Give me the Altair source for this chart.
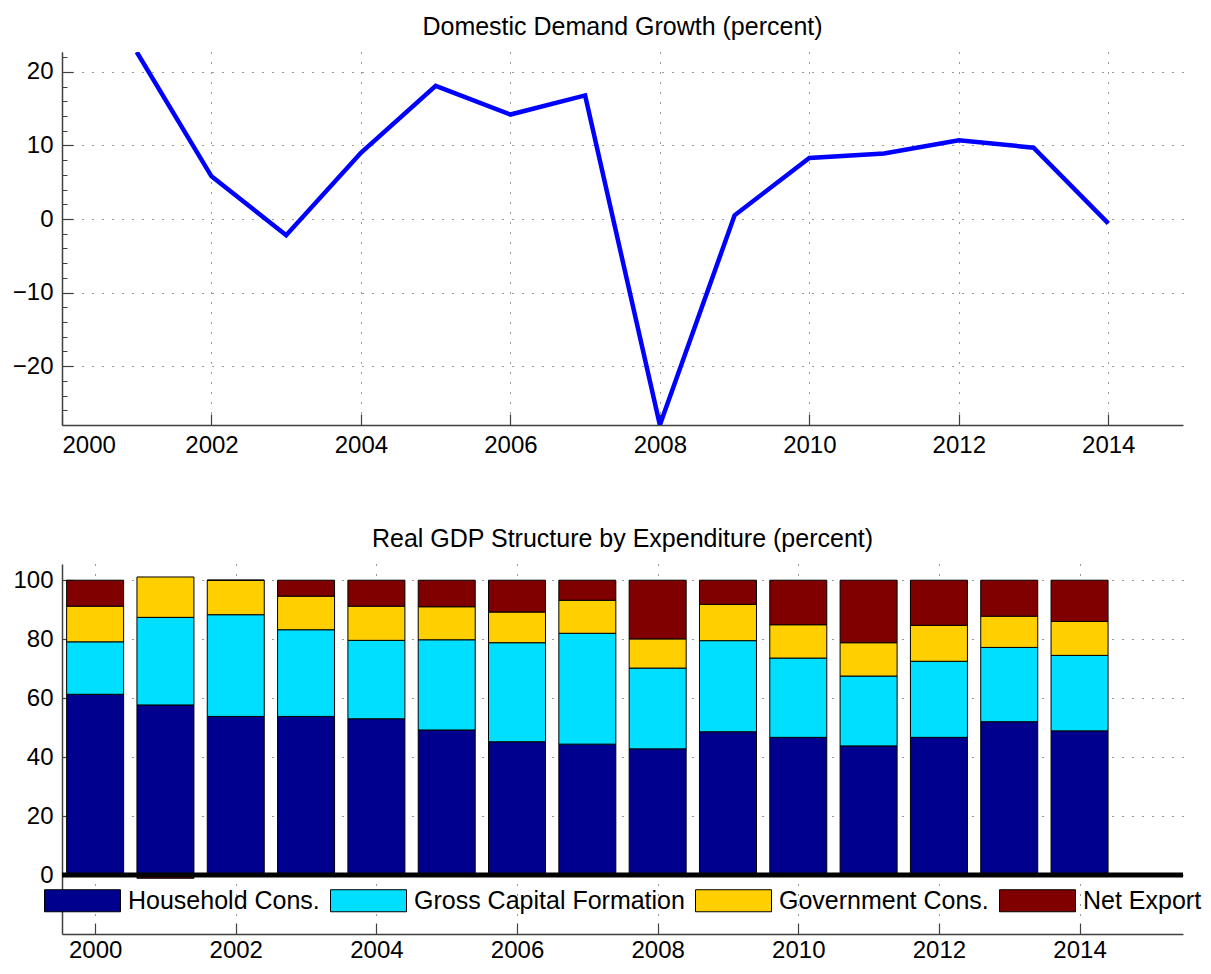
import altair as alt
import pandas as pd

# ---------------- data ----------------
growth_years = [2001, 2002, 2003, 2004, 2005, 2006, 2007, 2008, 2009, 2010, 2011, 2012, 2013, 2014]
growth = [22.7, 5.8, -2.2, 9.0, 18.1, 14.2, 16.8, -28.0, 0.5, 8.3, 8.9, 10.7, 9.7, -0.6]

years = [2000, 2001, 2002, 2003, 2004, 2005, 2006, 2007, 2008, 2009, 2010, 2011, 2012, 2013, 2014]
household = [61.3, 57.7, 53.8, 53.8, 53.0, 49.2, 45.2, 44.4, 42.8, 48.6, 46.7, 43.8, 46.7, 52.0, 48.9]
capital = [17.8, 29.7, 34.5, 29.4, 26.6, 30.6, 33.6, 37.6, 27.4, 30.9, 26.9, 23.7, 25.8, 25.2, 25.6]
government = [12.1, 13.7, 11.7, 11.4, 11.6, 11.2, 10.4, 11.2, 9.9, 12.3, 11.3, 11.3, 12.2, 10.6, 11.5]
net_export = [8.8, -1.1, 0.0, 5.4, 8.8, 9.0, 10.8, 6.8, 19.9, 8.2, 15.1, 21.2, 15.3, 12.2, 14.0]

components = ["Household Cons.", "Gross Capital Formation", "Government Cons.", "Net Export"]
comp_colors = ["#00008F", "#00DFFF", "#FFCF00", "#800000"]

x_ticks = [2000, 2002, 2004, 2006, 2008, 2010, 2012, 2014]
top_y_ticks = [-20, -10, 0, 10, 20]
top_minor = list(range(-28, 23, 2))
bot_y_ticks = [0, 20, 40, 60, 80, 100]

# ---------------- tables ----------------
df_top = pd.DataFrame({"year": growth_years, "growth": growth})
rows = []
for i, y in enumerate(years):
    for k, (name, series) in enumerate(zip(components, [household, capital, government, net_export])):
        rows.append({"year": y, "comp": name, "value": series[i], "ord": k})
df_bot = pd.DataFrame(rows)
df_zero = pd.DataFrame({"z": [0]})

W = 1121
H1 = 373
H2 = 370
AX = "#404040"
FONT = "Liberation Sans"
FS_T = 25   # titles / legend
FS_L = 24   # tick labels

grid_kw = dict(grid=True, gridDash=[1, 9], gridColor="black", gridOpacity=0.8, gridWidth=1)

# ---------------- top chart ----------------
xs_top = alt.Scale(domain=[2000, 2015], nice=False, zero=False)
ys_top = alt.Scale(domain=[-28, 22.7], nice=False, zero=False)

line = alt.Chart(df_top).mark_line(color="#0000FF", strokeWidth=4.5, clip=True).encode(
    x=alt.X("year:Q", scale=xs_top,
            axis=alt.Axis(values=x_ticks, format="d", tickSize=0, labelPadding=8, title=None,
                          domainColor=AX, domainWidth=1.5, **grid_kw)),
    y=alt.Y("growth:Q", scale=ys_top,
            axis=alt.Axis(values=top_y_ticks, tickSize=0, labelPadding=9, title=None,
                          domainColor=AX, domainWidth=1.5, minExtent=52, maxExtent=52, **grid_kw)),
)

ticks_top = alt.Chart(df_top).mark_line(opacity=0).encode(
    x=alt.X("year:Q", scale=xs_top,
            axis=alt.Axis(orient="top", offset=-H1, values=x_ticks, tickSize=11, labels=False,
                          domain=False, grid=False, title=None, tickColor=AX, tickWidth=1.2)),
    y=alt.Y("growth:Q", scale=ys_top,
            axis=alt.Axis(orient="right", offset=-W, values=top_y_ticks, tickSize=11, labels=False,
                          domain=False, grid=False, title=None, tickColor=AX, tickWidth=1.2)),
)

minor_top = alt.Chart(df_top).mark_line(opacity=0).encode(
    x=alt.X("year:Q", scale=xs_top, axis=None),
    y=alt.Y("growth:Q", scale=ys_top,
            axis=alt.Axis(orient="right", offset=-W, values=top_minor, tickSize=5, labels=False,
                          domain=False, grid=False, title=None, tickColor=AX, tickWidth=1)),
)

top = alt.layer(line, ticks_top, minor_top).resolve_axis(x="independent", y="independent").properties(
    width=W, height=H1,
    title=alt.TitleParams("Domestic Demand Growth (percent)", fontSize=FS_T, fontWeight="normal",
                          font=FONT, color="black", offset=12, frame="group", anchor="middle"),
)

# ---------------- bottom chart ----------------
xs_bot = alt.Scale(domain=[1999.6, 2015.4], nice=False, zero=False)
ys_bot = alt.Scale(domain=[-20, 105.5], nice=False, zero=False)

bars = alt.Chart(df_bot).mark_bar(size=57, stroke="black", strokeWidth=1).encode(
    x=alt.X("year:Q", scale=xs_bot,
            axis=alt.Axis(values=x_ticks, format="d", tickSize=0, labelPadding=4, title=None,
                          domainColor=AX, domainWidth=1.5, **grid_kw)),
    y=alt.Y("value:Q", stack="zero", scale=ys_bot,
            axis=alt.Axis(values=bot_y_ticks, tickSize=0, labelPadding=9, title=None,
                          domainColor=AX, domainWidth=1.5, minExtent=52, maxExtent=52, **grid_kw)),
    color=alt.Color("comp:N", scale=alt.Scale(domain=components, range=comp_colors),
                    legend=alt.Legend(orient="none", legendX=-18, legendY=298, direction="horizontal",
                                      title=None, symbolType="M-1,-0.2895H1V0.2895H-1Z",
                                      symbolSize=5776, symbolStrokeColor="black", symbolStrokeWidth=1,
                                      symbolOpacity=1, labelFontSize=FS_T, labelFont=FONT,
                                      labelColor="black", labelOffset=7, columnPadding=8,
                                      labelLimit=0, padding=0, rowPadding=0)),
    order=alt.Order("ord:Q"),
)

zero_line = alt.Chart(df_zero).mark_rule(color="black", strokeWidth=5).encode(
    y=alt.Y("z:Q", scale=ys_bot, axis=None)
)

ticks_bot = alt.Chart(df_bot).mark_point(opacity=0).encode(
    x=alt.X("year:Q", scale=xs_bot,
            axis=alt.Axis(orient="top", offset=-H2, values=x_ticks, tickSize=11, labels=False,
                          domain=False, grid=False, title=None, tickColor=AX, tickWidth=1.2)),
    y=alt.Y("value:Q", scale=ys_bot,
            axis=alt.Axis(orient="right", offset=-W, values=bot_y_ticks, tickSize=11, labels=False,
                          domain=False, grid=False, title=None, tickColor=AX, tickWidth=1.2)),
)

bottom = alt.layer(bars, zero_line, ticks_bot).resolve_axis(x="independent", y="independent").properties(
    width=W, height=H2,
    title=alt.TitleParams("Real GDP Structure by Expenditure (percent)", fontSize=FS_T, fontWeight="normal",
                          font=FONT, color="black", offset=12, frame="group", anchor="middle"),
)

chart = alt.vconcat(top, bottom, spacing=70).resolve_legend(color="independent").properties(
    padding={"left": 2, "top": 7, "right": 0, "bottom": 0}
).configure(font=FONT).configure_axis(
    labelFont=FONT, labelFontSize=FS_L, labelColor="black"
).configure_view(stroke=None)

chart.save("out.html", embed_options={"renderer": "svg", "actions": False})
